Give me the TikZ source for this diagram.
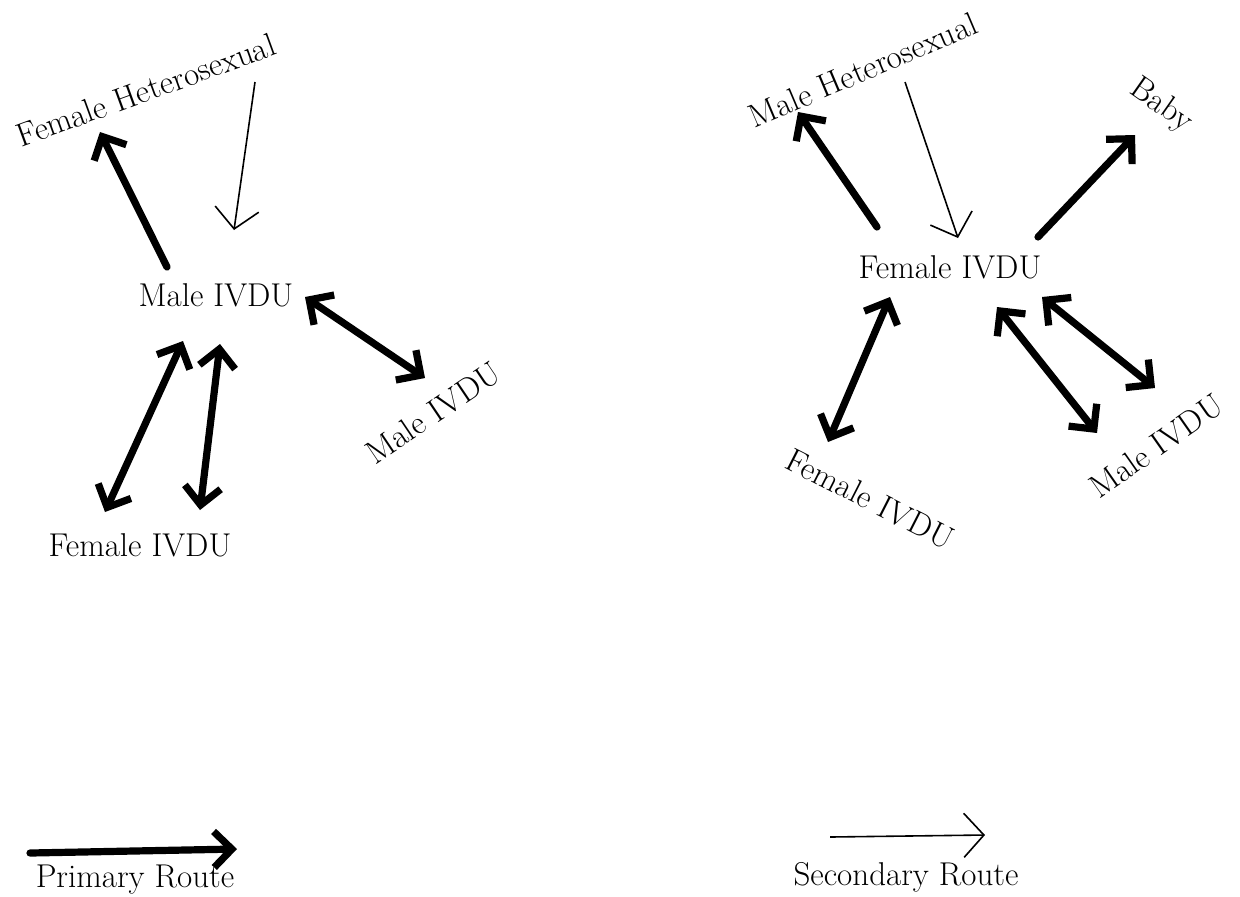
\documentclass[tikz,border=0pt]{standalone}
\usepackage{tikz}
\usetikzlibrary{arrows.meta, positioning}
\tikzstyle{etiqueta} = [inner sep=1pt, font=\fontsize{16.5}{19}\selectfont]
\tikzstyle{primaria} = [line width=3.6pt, line cap=round, -{Straight Barb[length=9pt, width=18pt, line width=3.6pt]}]
\tikzstyle{primariadoble} = [line width=3.6pt, {Straight Barb[length=9pt, width=18pt, line width=3.6pt]}-{Straight Barb[length=9pt, width=18pt, line width=3.6pt]}]
\tikzstyle{secundaria} = [line width=0.8pt, -{Straight Barb[length=10pt, width=22pt, line width=0.8pt]}]

\begin{document}
\begin{tikzpicture}[x=0.5pt, y=-0.5pt]
	\useasboundingbox (0,0) rectangle (1240,896);
	% grupo izquierdo
	\node [etiqueta, rotate=20] (fhet) at (146,90) {Female Heterosexual};
	\node [etiqueta] (mivdu) at (216,295) {Male IVDU};
	\node [etiqueta, rotate=34] (mivdub) at (433,413) {Male IVDU};
	\node [etiqueta] (fivdu) at (140,545) {Female IVDU};
	\draw [primaria] ([shift={(-49,-28)}]mivdu.center) -- ([shift={(-46,42)}]fhet.center);
	\draw [secundaria] ([shift={(109,-8)}]fhet.center) -- ([shift={(18,-65)}]mivdu.center);
	\draw [primariadoble] ([shift={(89,2)}]mivdu.center) -- ([shift={(-8,-35)}]mivdub.center);
	\draw [primariadoble] ([shift={(-33,46)}]mivdu.center) -- ([shift={(-35,-33)}]fivdu.center);
	\draw [primariadoble] ([shift={(4,49)}]mivdu.center) -- ([shift={(60,-35)}]fivdu.center);
	% grupo derecho
	\node [etiqueta, rotate=23] (mhet) at (863,70) {Male Heterosexual};
	\node [etiqueta, rotate=-35] (baby) at (1161,106) {Baby};
	\node [etiqueta] (fivdub) at (950,267) {Female IVDU};
	\node [etiqueta, rotate=-27] (fivduc) at (870,499) {Female IVDU};
	\node [etiqueta, rotate=35] (mivduc) at (1156,446) {Male IVDU};
	\draw [primaria] ([shift={(-73,-40)}]fivdub.center) -- ([shift={(-65,42)}]mhet.center);
	\draw [secundaria] ([shift={(42,12)}]mhet.center) -- ([shift={(8,-29)}]fivdub.center);
	\draw [primaria] ([shift={(88,-30)}]fivdub.center) -- ([shift={(-26,29)}]baby.center);
	\draw [primariadoble] ([shift={(-60,30)}]fivdub.center) -- ([shift={(-42,-57)}]fivduc.center);
	\draw [primariadoble] ([shift={(47,40)}]fivdub.center) -- ([shift={(-59,-13)}]mivduc.center);
	\draw [primariadoble] ([shift={(92,30)}]fivdub.center) -- ([shift={(-1,-58)}]mivduc.center);
	% leyenda
	\node [etiqueta] (prim) at (135,880) {Primary Route};
	\node [etiqueta] (secu) at (906,877) {Secondary Route};
	\draw [primaria] ([shift={(-105,-27)}]prim.center) -- ([shift={(102,-31)}]prim.center);
	\draw [secundaria] ([shift={(-76,-40)}]secu.center) -- ([shift={(79,-42)}]secu.center);
\end{tikzpicture}
\end{document}
